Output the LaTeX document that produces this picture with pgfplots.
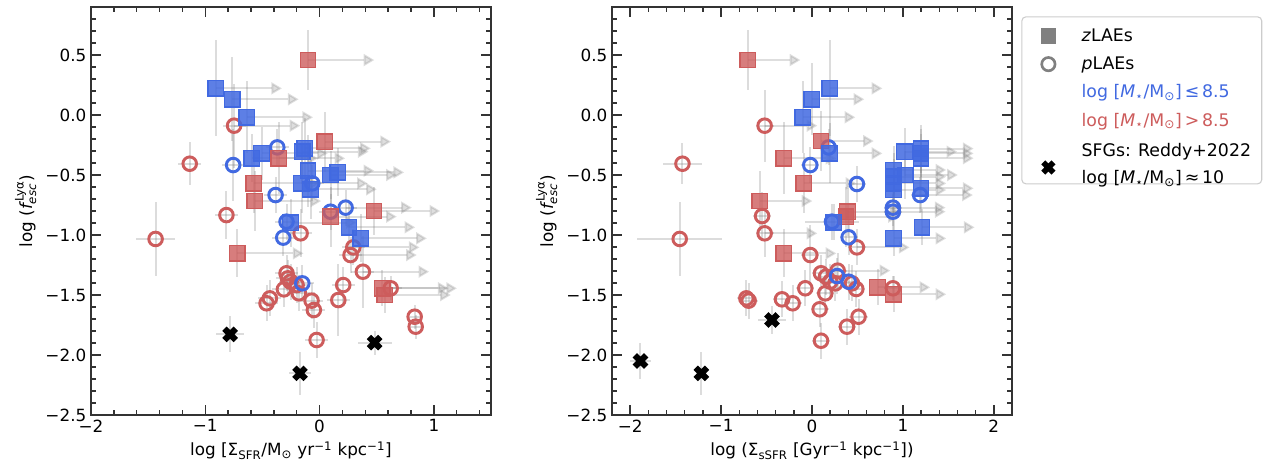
\documentclass[border=0pt]{standalone}
\usepackage{amsmath}
\usepackage{fontspec}
\setmainfont{DejaVu Sans}
\usepackage{pgfplots}
\usepackage{pgfplotstable}
\pgfplotsset{compat=1.18}
\usetikzlibrary{arrows.meta}
\definecolor{cblue}{RGB}{65,105,225}
\definecolor{cred}{RGB}{205,92,92}

% ---------------- LEFT PANEL DATA ----------------
\pgfplotstableread{
x y ey
-0.909 0.222 0.40
-0.763 0.131 0.35
-0.637 -0.019 0.30
-0.595 -0.361 0.20
-0.508 -0.320 0.22
-0.151 -0.306 0.25
-0.131 -0.278 0.25
-0.102 -0.464 0.30
0.096 -0.500 0.20
0.160 -0.478 0.20
-0.158 -0.570 0.25
-0.079 -0.619 0.25
-0.254 -0.897 0.20
0.257 -0.936 0.20
0.359 -1.028 0.20
}\lsqB
\pgfplotstableread{
x y ey
-0.101 0.458 0.25
0.046 -0.222 0.25
-0.356 -0.361 0.30
-0.575 -0.570 0.25
-0.566 -0.717 0.25
0.476 -0.800 0.20
0.096 -0.847 0.25
-0.720 -1.153 0.20
0.549 -1.444 0.15
0.569 -1.500 0.15
}\lsqR
\pgfplotstableread{
x y ex ey
-0.370 -0.270 0.10 0.15
-0.756 -0.417 0.10 0.30
-0.385 -0.667 0.10 0.15
-0.064 -0.570 0.10 0.15
0.096 -0.806 0.10 0.15
0.228 -0.772 0.10 0.15
-0.289 -0.889 0.10 0.15
-0.318 -1.022 0.10 0.15
-0.151 -1.403 0.10 0.15
}\lcirB
\pgfplotstableread{
x y ex ey
-0.748 -0.089 0.10 0.35
-1.136 -0.406 0.10 0.18
-0.815 -0.834 0.10 0.20
-1.435 -1.033 0.17 0.31
-0.166 -0.986 0.10 0.20
0.295 -1.103 0.10 0.15
0.271 -1.167 0.10 0.15
0.379 -1.306 0.10 0.30
-0.289 -1.319 0.10 0.15
-0.277 -1.361 0.10 0.15
-0.254 -1.389 0.10 0.15
-0.201 -1.417 0.10 0.15
-0.312 -1.453 0.10 0.15
-0.181 -1.486 0.10 0.15
-0.435 -1.528 0.10 0.15
-0.464 -1.569 0.10 0.15
-0.070 -1.547 0.10 0.15
-0.050 -1.625 0.10 0.15
0.207 -1.417 0.10 0.15
0.164 -1.542 0.10 0.30
-0.026 -1.875 0.10 0.15
0.832 -1.681 0.05 0.10
0.841 -1.764 0.05 0.10
0.622 -1.444 0.10 0.10
}\lcirR
\pgfplotstableread{
x y ex ey
-0.783 -1.828 0.12 0.15
0.482 -1.897 0.15 0.10
-0.171 -2.153 0.10 0.18
}\lX
\pgfplotstableread{
x y u
-0.909 0.222 0.58
-0.763 0.131 0.58
-0.637 -0.019 0.58
-0.595 -0.361 0.58
-0.508 -0.320 0.58
-0.151 -0.306 0.58
-0.131 -0.278 0.58
-0.102 -0.464 0.58
0.096 -0.500 0.58
0.160 -0.478 0.58
-0.158 -0.570 0.58
-0.079 -0.619 0.58
-0.254 -0.897 0.58
0.257 -0.936 0.58
0.359 -1.028 0.58
-0.101 0.458 0.58
0.046 -0.222 0.58
-0.356 -0.361 0.58
-0.575 -0.570 0.58
-0.566 -0.717 0.58
0.476 -0.800 0.58
0.096 -0.847 0.58
-0.720 -1.153 0.58
0.549 -1.444 0.58
0.569 -1.500 0.58
-0.748 -0.089 0.58
0.295 -1.103 0.58
0.271 -1.167 0.58
0.379 -1.306 0.58
0.622 -1.444 0.58
0.228 -0.772 0.58
}\lArr

% ---------------- RIGHT PANEL DATA ----------------
\pgfplotstableread{
x y ey
0.194 0.222 0.40
-0.004 0.131 0.30
-0.103 -0.019 0.30
0.194 -0.320 0.25
1.018 -0.306 0.20
1.198 -0.280 0.20
1.198 -0.320 0.20
1.198 -0.360 0.20
0.897 -0.458 0.20
0.897 -0.514 0.20
0.897 -0.570 0.20
0.897 -0.625 0.20
1.025 -0.500 0.20
1.198 -0.611 0.20
0.897 -1.028 0.15
1.209 -0.936 0.15
0.240 -0.895 0.15
}\rsqB
\pgfplotstableread{
x y ey
-0.708 0.458 0.25
0.099 -0.217 0.25
-0.312 -0.361 0.30
-0.092 -0.570 0.25
-0.576 -0.717 0.25
0.391 -0.806 0.20
0.374 -0.847 0.25
-0.312 -1.153 0.20
0.721 -1.436 0.15
0.897 -1.494 0.15
}\rsqR
\pgfplotstableread{
x y ex ey
0.183 -0.270 0.10 0.15
-0.019 -0.417 0.10 0.15
0.494 -0.575 0.10 0.15
1.190 -0.667 0.10 0.15
0.890 -0.772 0.10 0.15
0.890 -0.806 0.10 0.15
0.220 -0.889 0.30 0.15
0.403 -1.019 0.10 0.15
0.275 -1.342 0.10 0.15
0.403 -1.389 0.10 0.15
}\rcirB
\pgfplotstableread{
x y ex ey
-0.521 -0.089 0.10 0.30
-1.425 -0.406 0.21 0.17
-0.549 -0.842 0.10 0.20
-0.521 -0.986 0.10 0.20
-1.455 -1.033 0.47 0.31
0.494 -1.103 0.10 0.15
-0.019 -1.167 0.10 0.25
0.099 -1.319 0.10 0.15
0.154 -1.347 0.10 0.15
0.282 -1.297 0.10 0.15
0.201 -1.389 0.10 0.15
0.256 -1.403 0.10 0.15
0.440 -1.403 0.10 0.15
0.487 -1.450 0.10 0.15
0.146 -1.486 0.10 0.15
-0.074 -1.444 0.10 0.15
-0.330 -1.536 0.10 0.15
-0.213 -1.569 0.10 0.15
-0.722 -1.528 0.10 0.15
-0.697 -1.547 0.10 0.15
0.084 -1.619 0.10 0.15
0.512 -1.681 0.10 0.15
0.385 -1.764 0.10 0.15
0.099 -1.881 0.10 0.15
0.890 -1.444 0.10 0.10
}\rcirR
\pgfplotstableread{
x y ex ey
-1.887 -2.050 0.12 0.15
-1.217 -2.153 0.05 0.18
-0.440 -1.708 0.15 0.12
}\rX
\pgfplotstableread{
x y u
0.194 0.222 0.58
-0.004 0.131 0.58
-0.103 -0.019 0.58
0.194 -0.320 0.58
1.018 -0.306 0.58
1.198 -0.280 0.58
1.198 -0.320 0.58
1.198 -0.360 0.58
0.897 -0.458 0.58
0.897 -0.514 0.58
0.897 -0.570 0.58
0.897 -0.625 0.58
1.025 -0.500 0.58
1.198 -0.611 0.58
0.897 -1.028 0.58
1.209 -0.936 0.58
-0.708 0.458 0.58
0.099 -0.217 0.58
-0.312 -0.361 0.58
-0.092 -0.570 0.58
-0.576 -0.717 0.58
0.391 -0.806 0.58
0.374 -0.847 0.58
-0.312 -1.153 0.58
0.721 -1.436 0.58
0.897 -1.494 0.58
-0.521 -0.089 0.58
-0.521 -0.986 0.58
0.494 -1.103 0.58
0.282 -1.297 0.58
0.890 -0.772 0.58
0.890 -0.806 0.58
1.190 -0.667 0.58
}\rArr

\pgfplotsset{
  panel/.style={
    scale only axis, width=300pt, height=306pt,
    ymin=-2.5, ymax=0.9,
    ytick={-2.5,-2.0,-1.5,-1.0,-0.5,0.0,0.5},
    yticklabels={−2.5,−2.0,−1.5,−1.0,−0.5,0.0,0.5},
    minor ytick={-2.4,-2.3,...,0.85},
    tick align=inside, xtick pos=both, ytick pos=both,
    major tick length=7.5pt, minor tick length=4pt,
    axis line style={line width=1.4pt, black!80},
    every tick/.style={black!80, line width=1.1pt},
    tick label style={font=\fontsize{12.6}{15}\selectfont},
    label style={font=\fontsize{12.6}{15}\selectfont},
    ylabel={log ($\textit{f}^{\,\text{Lyα}}_{\textit{esc}}$)},
  },
  ebar/.style={draw=none, mark=none, forget plot,
    error bars/.cd, x dir=both, y dir=both, x explicit, y explicit,
    error mark=none, error bar style={draw=gray, draw opacity=0.28, line width=1.5pt}},
  ebary/.style={draw=none, mark=none, forget plot,
    error bars/.cd, y dir=both, y explicit,
    error mark=none, error bar style={draw=gray, draw opacity=0.28, line width=1.5pt}},
  arr/.style={forget plot, mark=none, draw=gray, opacity=0.26, line width=1.5pt,
    -{Triangle[length=8pt,width=9pt]},
    quiver={u=\thisrow{u}, v=0}},
  sqB/.style={only marks, forget plot, mark=square*, mark size=5.8pt,
    mark options={draw=cblue, fill=cblue, fill opacity=0.85, line width=1pt}},
  sqR/.style={only marks, forget plot, mark=square*, mark size=5.8pt,
    mark options={draw=cred, fill=cred, fill opacity=0.8, line width=1pt}},
  ciB/.style={only marks, forget plot, mark=o, mark size=5.1pt,
    mark options={draw=cblue, line width=2.2pt}},
  ciR/.style={only marks, forget plot, mark=o, mark size=5.1pt,
    mark options={draw=cred, line width=2.2pt}},
  crX/.style={only marks, forget plot, mark=x, mark size=6pt,
    mark options={draw=black, line width=4.6pt}},
  limg/.style={legend image code/.code={\path (0pt,0pt) (36pt,0pt); \draw[##1] plot coordinates {(13.5pt,0pt)};}},
  limgX/.style={legend image code/.code={\path (0pt,0pt) (36pt,0pt); \draw[##1] plot coordinates {(13.5pt,-8pt)};}},
}

\begin{document}
\begin{tikzpicture}
\useasboundingbox (-68.25pt,-45pt) rectangle (882pt,311.25pt);
% LEFT
\begin{axis}[panel, at={(0pt,0pt)}, anchor=south west,
  xmin=-2, xmax=1.5,
  xtick={-2,-1,0,1}, xticklabels={−2,−1,0,1},
  minor xtick={-1.8,-1.6,...,1.45},
  xlabel={log [Σ\textsubscript{SFR}/M\textsubscript{⊙} yr\textsuperscript{−1} kpc\textsuperscript{−1}]}]
\addplot[ebary] table[x=x,y=y,y error=ey] {\lsqB};
\addplot[ebary] table[x=x,y=y,y error=ey] {\lsqR};
\addplot[ebar] table[x=x,y=y,x error=ex,y error=ey] {\lcirB};
\addplot[ebar] table[x=x,y=y,x error=ex,y error=ey] {\lcirR};
\addplot[ebar] table[x=x,y=y,x error=ex,y error=ey] {\lX};
\addplot[arr] table[x=x,y=y] {\lArr};
\addplot[ciR] table[x=x,y=y] {\lcirR};
\addplot[ciB] table[x=x,y=y] {\lcirB};
\addplot[sqR] table[x=x,y=y] {\lsqR};
\addplot[sqB] table[x=x,y=y] {\lsqB};
\addplot[crX] table[x=x,y=y] {\lX};
\end{axis}
% RIGHT
\begin{axis}[panel, at={(390.75pt,0pt)}, anchor=south west,
  xmin=-2.2, xmax=2.2,
  xtick={-2,-1,0,1,2}, xticklabels={−2,−1,0,1,2},
  minor xtick={-1.8,-1.6,...,1.85},
  xlabel={log (Σ\textsubscript{sSFR} [Gyr\textsuperscript{−1} kpc\textsuperscript{−1}])},
  legend cell align=left,
  legend style={at={(1,1)}, anchor=north west, xshift=7pt, yshift=-7pt,
    draw=black!20, line width=0.8pt, rounded corners=3pt,
    font=\fontsize{13}{15.5}\selectfont, row sep=6pt,
    inner xsep=6pt, inner ysep=7pt},
]
\addplot[ebary] table[x=x,y=y,y error=ey] {\rsqB};
\addplot[ebary] table[x=x,y=y,y error=ey] {\rsqR};
\addplot[ebar] table[x=x,y=y,x error=ex,y error=ey] {\rcirB};
\addplot[ebar] table[x=x,y=y,x error=ex,y error=ey] {\rcirR};
\addplot[ebar] table[x=x,y=y,x error=ex,y error=ey] {\rX};
\addplot[arr] table[x=x,y=y] {\rArr};
\addplot[ciR] table[x=x,y=y] {\rcirR};
\addplot[ciB] table[x=x,y=y] {\rcirB};
\addplot[sqR] table[x=x,y=y] {\rsqR};
\addplot[sqB] table[x=x,y=y] {\rsqB};
\addplot[crX] table[x=x,y=y] {\rX};
\addlegendimage{limg, only marks, mark=square*, mark size=5.4pt, draw=gray, fill=gray}
\addlegendentry{\textit{z}LAEs}
\addlegendimage{limg, only marks, mark=o, mark size=5pt, mark options={draw=gray, line width=2pt}}
\addlegendentry{\textit{p}LAEs}
\addlegendimage{empty legend}
\addlegendentry{\textcolor{cblue}{log [\textit{M}\textsubscript{⋆}/M\textsubscript{⊙}]\,≤\,8.5}}
\addlegendimage{empty legend}
\addlegendentry{\textcolor{cred}{log [\textit{M}\textsubscript{⋆}/M\textsubscript{⊙}]\,>\,8.5}}
\addlegendimage{limgX, only marks, mark=x, mark size=5.4pt, mark options={draw=black, line width=4.3pt}}
\addlegendentry{\begin{tabular}{@{}l@{}}SFGs: Reddy+2022\\[5pt]log [\textit{M}\textsubscript{⋆}/M\textsubscript{⊙}]\,≈\,10\end{tabular}}
\end{axis}
\end{tikzpicture}
\end{document}
